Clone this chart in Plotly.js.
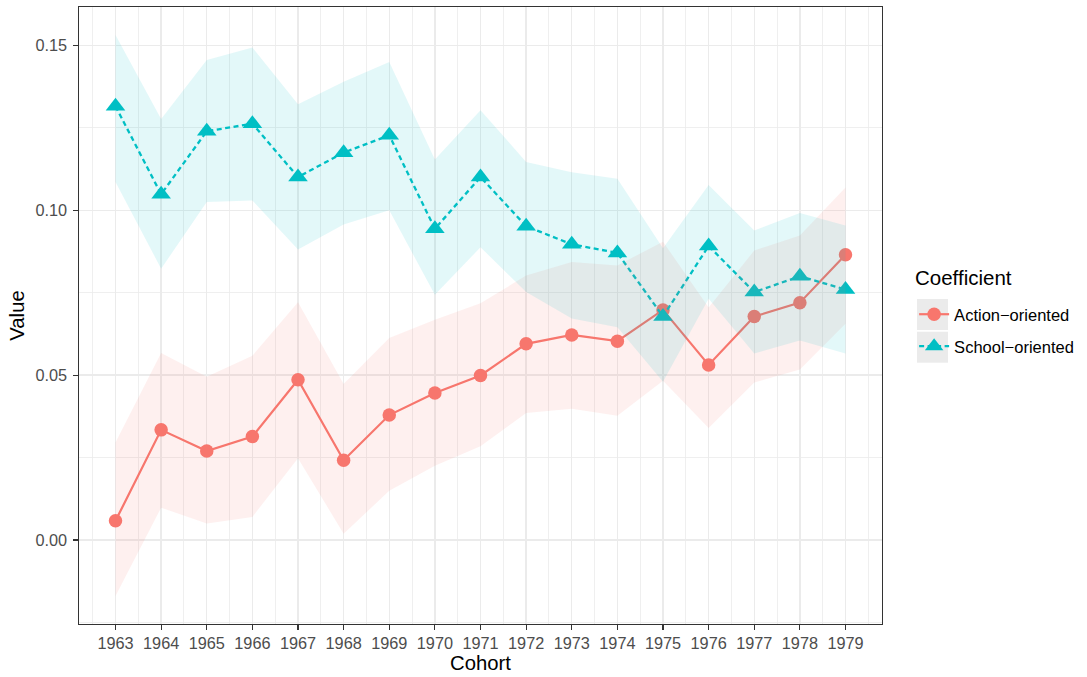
<!DOCTYPE html>
<html>
<head>
<meta charset="utf-8">
<script src="https://cdn.plot.ly/plotly-3.0.1.min.js"></script>
<style>
  html, body { margin: 0; padding: 0; background: #ffffff; }
  #chart { width: 1087px; height: 677px; }
</style>
</head>
<body>
<div id="chart"></div>
<script>
// ---- Data ----
const cohort = [1963, 1964, 1965, 1966, 1967, 1968, 1969, 1970, 1971, 1972, 1973, 1974, 1975, 1976, 1977, 1978, 1979];
const tickLabels = ["1963", "1964", "1965", "1966", "1967", "1968", "1969", "1970", "1971", "1972", "1973", "1974", "1975", "1976", "1977", "1978", "1979"];

const actionName = "Action\u2212oriented";
const actionValue = [0.0058, 0.0334, 0.0270, 0.0314, 0.0486, 0.0242, 0.0379, 0.0446, 0.0499, 0.0595, 0.0622, 0.0603, 0.0698, 0.0531, 0.0678, 0.0720, 0.0865];
const actionLow   = [-0.0170, 0.0098, 0.0050, 0.0070, 0.0248, 0.0019, 0.0149, 0.0225, 0.0284, 0.0385, 0.0398, 0.0377, 0.0483, 0.0340, 0.0478, 0.0517, 0.0656];
const actionHigh  = [0.0296, 0.0567, 0.0495, 0.0559, 0.0721, 0.0473, 0.0613, 0.0668, 0.0718, 0.0802, 0.0843, 0.0833, 0.0905, 0.0705, 0.0878, 0.0924, 0.1069];

const schoolName = "School\u2212oriented";
const schoolValue = [0.1316, 0.1049, 0.1240, 0.1263, 0.1101, 0.1175, 0.1228, 0.0944, 0.1101, 0.0952, 0.0897, 0.0871, 0.0678, 0.0892, 0.0752, 0.0800, 0.0760];
const schoolLow   = [0.1086, 0.0823, 0.1025, 0.1030, 0.0881, 0.0957, 0.1000, 0.0744, 0.0888, 0.0752, 0.0672, 0.0645, 0.0480, 0.0732, 0.0566, 0.0605, 0.0566];
const schoolHigh  = [0.1532, 0.1277, 0.1456, 0.1494, 0.1322, 0.1390, 0.1450, 0.1154, 0.1304, 0.1147, 0.1116, 0.1096, 0.0885, 0.1077, 0.0939, 0.0992, 0.0954];

const yTicks = [0.00, 0.05, 0.10, 0.15];
const yTickText = ["0.00", "0.05", "0.10", "0.15"];
const legendTitle = "Coefficient";

// ---- Styling ----
const RED = "#F8766D";
const CYAN = "#00BFC4";
const FONT = "'Liberation Sans', Arial, Helvetica, sans-serif";

function ribbon(x, lo, hi, color) {
  const xs = x.concat(x.slice().reverse());
  const ys = hi.concat(lo.slice().reverse());
  return {
    x: xs, y: ys, type: "scatter", mode: "lines",
    fill: "toself", fillcolor: color,
    line: { width: 0, color: "rgba(0,0,0,0)" },
    hoverinfo: "skip", showlegend: false
  };
}

const traces = [
  {
    x: cohort, y: actionValue, name: actionName, type: "scatter", mode: "lines+markers",
    line: { color: RED, width: 2.2 },
    marker: { color: RED, size: 13.5, symbol: "circle" },
    legendgroup: "a"
  },
  {
    x: cohort, y: schoolValue, name: schoolName, type: "scatter", mode: "lines+markers",
    line: { color: CYAN, width: 2.3, dash: "5px,3.5px" },
    marker: { color: CYAN, size: 17, symbol: "triangle-up" },
    legendgroup: "b"
  },
  ribbon(cohort, actionLow, actionHigh, "rgba(248,118,109,0.11)"),
  ribbon(cohort, schoolLow, schoolHigh, "rgba(0,191,196,0.11)")
];

const layout = {
  width: 1087, height: 677,
  margin: { l: 79, r: 205, t: 7, b: 53 },
  paper_bgcolor: "#ffffff",
  plot_bgcolor: "#ffffff",
  font: { family: FONT, color: "#000000" },
  showlegend: true,
  xaxis: {
    range: [1962.2, 1979.8],
    tickmode: "array", tickvals: cohort, ticktext: tickLabels,
    ticks: "outside", ticklen: 4.5, tickwidth: 1.1, tickcolor: "#333333",
    tickfont: { size: 16.3, color: "#4D4D4D", family: FONT },
    showgrid: true, gridcolor: "#EBEBEB", gridwidth: 1.4,
    minor: { dtick: 0.5, tick0: 1962.5, showgrid: true, gridcolor: "#EBEBEB", gridwidth: 0.8, ticks: "" },
    showline: true, linecolor: "#333333", linewidth: 1.1, mirror: true,
    zeroline: false,
    title: { text: "Cohort", font: { size: 20.3, color: "#000000", family: FONT }, standoff: 4 }
  },
  yaxis: {
    range: [-0.0255, 0.1617],
    tickmode: "array", tickvals: yTicks, ticktext: yTickText,
    ticks: "outside", ticklen: 4.5, tickwidth: 1.1, tickcolor: "#333333",
    tickfont: { size: 16.3, color: "#4D4D4D", family: FONT },
    ticklabelstandoff: 3,
    showgrid: true, gridcolor: "#EBEBEB", gridwidth: 1.4,
    minor: { dtick: 0.025, tick0: -0.025, showgrid: true, gridcolor: "#EBEBEB", gridwidth: 0.8, ticks: "" },
    showline: true, linecolor: "#333333", linewidth: 1.1, mirror: true,
    zeroline: false,
    title: { text: "Value", font: { size: 20.3, color: "#000000", family: FONT }, standoff: 5 }
  },
  legend: {
    x: 1.040, xanchor: "left", y: 0.530, yanchor: "top",
    bgcolor: "rgba(0,0,0,0)", borderwidth: 0,
    font: { size: 16.5, color: "#000000", family: FONT },
    traceorder: "grouped", tracegroupgap: 7.5,
    itemsizing: "trace"
  },
  annotations: [
    { text: legendTitle, xref: "paper", yref: "paper", x: 1.0386, y: 0.5608,
      xanchor: "left", yanchor: "middle", showarrow: false,
      font: { size: 20.5, color: "#000000", family: FONT } }
  ],
  shapes: [
    { type: "rect", xref: "paper", yref: "paper", x0: 1.0436, x1: 1.0822, y0: 0.4765, y1: 0.5267,
      fillcolor: "#EBEBEB", line: { width: 0 }, layer: "below" },
    { type: "rect", xref: "paper", yref: "paper", x0: 1.0436, x1: 1.0822, y0: 0.4235, y1: 0.4737,
      fillcolor: "#EBEBEB", line: { width: 0 }, layer: "below" }
  ]
};

Plotly.newPlot("chart", traces, layout, { displayModeBar: false, staticPlot: true });
</script>
</body>
</html>
